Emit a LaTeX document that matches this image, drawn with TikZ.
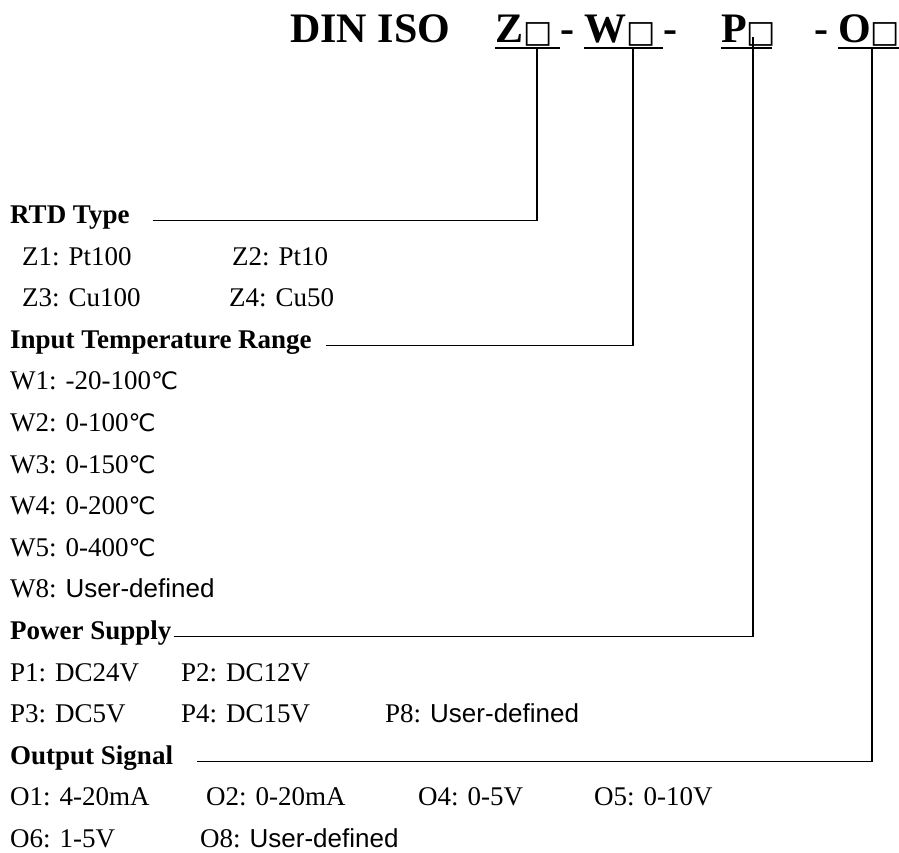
\documentclass[tikz,border=0pt]{standalone}
\usepackage{fontspec}
\setmainfont{Liberation Serif}
\newfontfamily\sansfam{Liberation Sans}
\newfontfamily\symfam{DejaVu Sans}
\usetikzlibrary{positioning,calc}

\newcommand{\blank}{{\symfam\mdseries\fontsize{31pt}{31pt}\selectfont □}}
\newcommand{\degc}{{\symfam\fontsize{24pt}{24pt}\selectfont ℃}}
\newcommand{\userdef}{{\sansfam\fontsize{26pt}{30pt}\selectfont User-defined}}

\tikzset{
  title/.style={anchor=base west, inner sep=0pt, font=\fontsize{42pt}{48pt}\selectfont\bfseries},
  head/.style={anchor=base west, inner sep=0pt, font=\fontsize{27pt}{32pt}\selectfont\bfseries},
  item/.style={anchor=base west, inner sep=0pt, font=\fontsize{27pt}{32pt}\selectfont},
  link/.style={line width=1.3pt},
  uline/.style={line width=2.8pt}
}

\begin{document}
\begin{tikzpicture}[x=1pt, y=-1pt]
  \useasboundingbox (0,0) rectangle (899,852);

  % model code
  \node[title] (dinIso) at (290,42) {DIN ISO};
  \node[title] (zcode) at (495,42) {Z\blank};
  \node[title] (dash1) at (560,42) {-};
  \node[title] (wcode) at (584,42) {W\blank};
  \node[title] (dash2) at (663,42) {-};
  \node[title] (pcode) at (721,42) {P\blank};
  \node[title] (dash3) at (814,42) {-};
  \node[title] (ocode) at (838,42) {O\blank};

  \draw[uline] (495,48) -- (560,48);
  \draw[uline] (584,48) -- (663,48);
  \draw[uline] (721,48) -- (772,48);
  \draw[uline] (838,48) -- (899,48);

  \coordinate (zdrop) at (537,48);
  \coordinate (wdrop) at (633,48);
  \coordinate (pdrop) at (753,37);
  \coordinate (odrop) at (872,48);

  % RTD type
  \node[head] (rtd) at (10,223) {RTD Type};
  \node[item] (z1) at (22,265) {Z1: Pt100};
  \node[item] (z2) at (232,265) {Z2: Pt10};
  \node[item] (z3) at (22,306) {Z3: Cu100};
  \node[item] (z4) at (229,306) {Z4: Cu50};

  % temperature range
  \node[head] (range) at (10,348) {Input Temperature Range};
  \node[item] (w1) at (10,389) {W1: -20-100\degc};
  \node[item] (w2) at (10,431) {W2: 0-100\degc};
  \node[item] (w3) at (10,473) {W3: 0-150\degc};
  \node[item] (w4) at (10,514) {W4: 0-200\degc};
  \node[item] (w5) at (10,556) {W5: 0-400\degc};
  \node[item] (w8) at (10,597) {W8: \userdef};

  % power supply
  \node[head] (power) at (10,639) {Power Supply};
  \node[item] (p1) at (10,681) {P1: DC24V};
  \node[item] (p2) at (181,681) {P2: DC12V};
  \node[item] (p3) at (10,722) {P3: DC5V};
  \node[item] (p4) at (181,722) {P4: DC15V};
  \node[item] (p8) at (385,722) {P8: \userdef};

  % output signal
  \node[head] (output) at (10,764) {Output Signal};
  \node[item] (o1) at (10,805) {O1: 4-20mA};
  \node[item] (o2) at (206,805) {O2: 0-20mA};
  \node[item] (o4) at (418,805) {O4: 0-5V};
  \node[item] (o5) at (594,805) {O5: 0-10V};
  \node[item] (o6) at (10,847) {O6: 1-5V};
  \node[item] (o8) at (200,847) {O8: \userdef};

  \draw[link] ([xshift=23pt]rtd.mid east) -| (zdrop);
  \draw[link] ([xshift=14pt]range.mid east) -| (wdrop);
  \draw[link] ([xshift=2pt]power.mid east) -| (pdrop);
  \draw[link] ([xshift=24pt]output.mid east) -| (odrop);
\end{tikzpicture}
\end{document}
